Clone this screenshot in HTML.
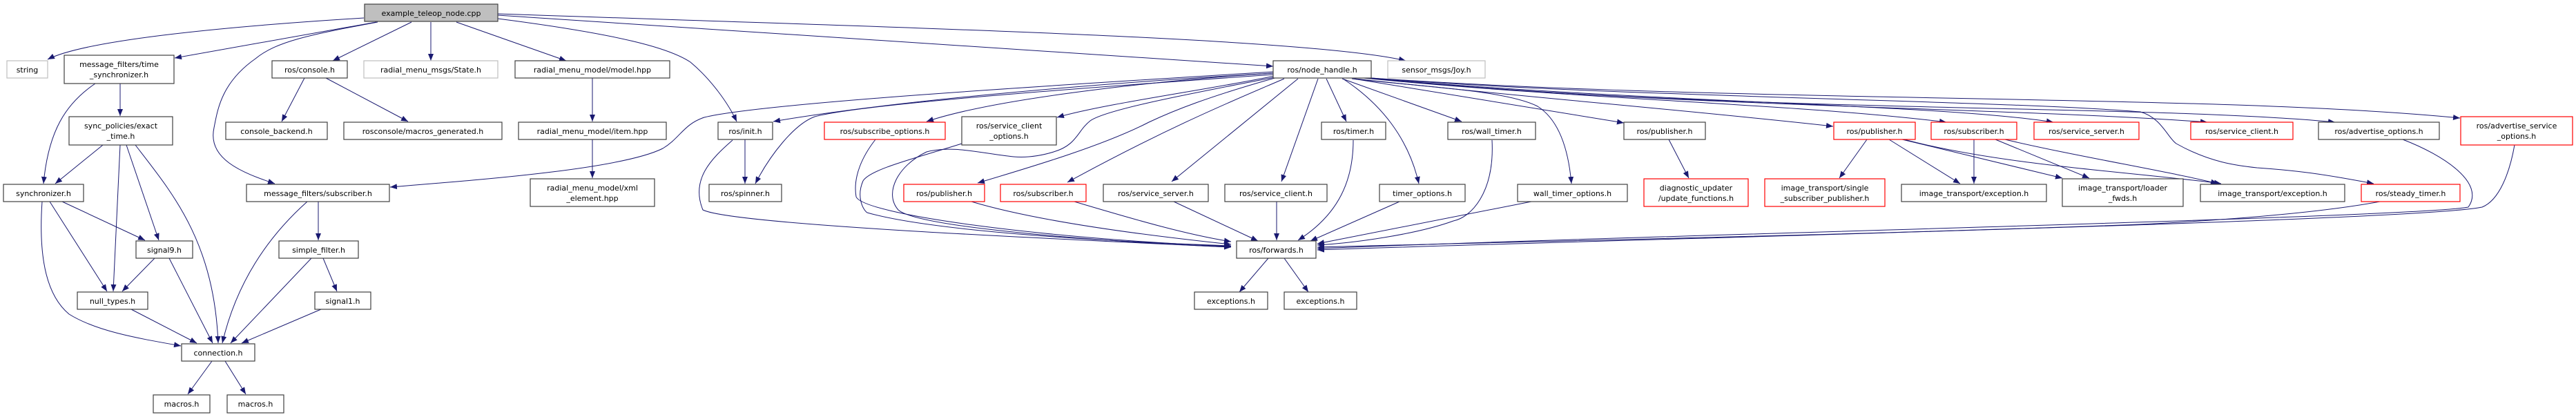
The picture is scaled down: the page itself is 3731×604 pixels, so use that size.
<!DOCTYPE html>
<html><head><meta charset="utf-8"><style>
html,body{margin:0;padding:0;background:#fff;}
svg{display:block}
text{font-family:"DejaVu Sans","Liberation Sans",sans-serif;font-size:11px;fill:#000;text-anchor:middle}
.b{fill:#fff;stroke:#404040;stroke-width:1.2}
.r{fill:#fff;stroke:#ff0000;stroke-width:1.2}
.g{fill:#fff;stroke:#bfbfbf;stroke-width:1.2}
.e{fill:none;stroke:#191970;stroke-width:1}
</style></head><body>
<svg width="3731" height="604" viewBox="0 0 3731 604" xmlns="http://www.w3.org/2000/svg">
<defs><marker id="a" markerUnits="userSpaceOnUse" markerWidth="11" markerHeight="8" refX="10" refY="4" orient="auto"><path d="M0,0 L10,4 L0,8 z" fill="#191970"/></marker></defs>
<g class="e" marker-end="url(#a)">
<!-- from example_teleop_node.cpp -->
<path d="M527,26 C300,40 120,60 69,86"/>
<path d="M545,32 L253,84"/>
<path d="M547,32 C450,50 400,60 370,85 C320,120 315,160 310,185 C300,230 350,250 398,266"/>
<path d="M596,32 L482,88"/>
<path d="M624,32 L624,88"/>
<path d="M661,32 L820,88"/>
<path d="M721,27 C900,50 970,70 1000,90 C1030,115 1055,150 1067,176"/>
<path d="M721,22 L1844,96"/>
<path d="M721,20 C1300,40 1900,55 2036,88"/>
<!-- from ros/node_handle.h -->
<path d="M1844,104 C1500,125 1100,150 1020,170 C990,180 985,200 960,215 C900,245 700,260 565,271"/>
<path d="M1844,106 C1600,120 1300,145 1120,176"/>
<path d="M1844,108 C1600,125 1250,150 1180,169 C1150,180 1115,225 1094,266"/>
<path d="M1844,106 C1700,115 1450,140 1342,176"/>
<path d="M1846,110 C1750,130 1600,150 1531,170"/>
<path d="M1850,112 C1750,140 1700,160 1664,177 C1600,210 1500,240 1416,265"/>
<path d="M1860,114 C1800,140 1700,180 1546,264"/>
<path d="M1880,114 L1697,263"/>
<path d="M1909,114 L1856,263"/>
<path d="M1846,112 C1700,140 1600,160 1579,175 C1560,190 1560,210 1526,220 C1500,228 1480,228 1468,227 C1420,222 1380,210 1342,220 C1300,240 1280,280 1301,304 C1330,330 1600,350 1783,358"/>
<path d="M1921,114 L1950,176"/>
<path d="M1945,114 C2000,150 2040,200 2055,266"/>
<path d="M1944,114 L2117,176"/>
<path d="M1958,114 C2050,125 2180,130 2227,154 C2260,175 2272,220 2276,266"/>
<path d="M1960,114 L2352,178"/>
<path d="M1962,114 C2200,140 2450,160 2655,183"/>
<path d="M1964,112 C2300,145 2600,150 2819,177"/>
<path d="M1966,112 C2400,150 2800,150 2974,177"/>
<path d="M1968,112 C2400,155 2900,155 3197,177"/>
<path d="M1970,112 C2500,165 3100,150 3382,177"/>
<path d="M1972,112 C2500,150 3200,135 3563,171"/>
<path d="M1974,112 C2300,140 2900,145 3100,162 C3130,170 3140,200 3152,208 C3200,235 3240,240 3269,243 C3340,248 3380,255 3438,266"/>
<!-- to forwards -->
<path d="M1061,203 C1030,230 1000,260 1018,304 C1060,325 1500,345 1783,358"/>
<path d="M1268,202 C1250,225 1235,255 1240,285 C1250,310 1500,345 1783,357"/>
<path d="M1393,208 C1330,228 1260,245 1250,262 C1240,285 1250,304 1256,308 C1350,335 1600,350 1783,356"/>
<path d="M1407,292 C1500,320 1650,340 1783,354"/>
<path d="M1556,292 C1650,320 1720,340 1783,350"/>
<path d="M1700,292 L1822,349"/>
<path d="M1849,292 L1849,348"/>
<path d="M1960,203 C1960,260 1940,310 1880,348"/>
<path d="M2027,292 L1898,349"/>
<path d="M2161,203 C2165,280 2130,315 2105,320 C2050,340 1960,352 1908,355"/>
<path d="M2218,292 L1908,353"/>
<path d="M3447,292 C3350,310 3200,320 3100,325 C2700,340 2200,350 1908,358"/>
<path d="M3480,202 C3540,225 3600,265 3575,300 C3500,315 2400,340 1908,360"/>
<path d="M3642,210 C3635,250 3620,290 3595,300 C3500,320 2400,345 1908,362"/>
<path d="M1837,374 L1795,423"/>
<path d="M1860,374 L1895,423"/>
<!-- ros/init -->
<path d="M1079,202 L1079,266"/>
<!-- radial menu -->
<path d="M858,113 L858,176"/>
<path d="M858,202 L858,258"/>
<!-- publisher/subscriber -->
<path d="M2417,202 L2446,258"/>
<path d="M2704,202 L2664,258"/>
<path d="M2736,202 L2839,266"/>
<path d="M2755,202 L2987,258"/>
<path d="M2758,202 C2900,240 3100,250 3217,266"/>
<path d="M2859,202 L2859,266"/>
<path d="M2890,202 L3026,258"/>
<path d="M2904,202 C3000,225 3150,250 3212,266"/>
<!-- left cluster -->
<path d="M174,121 L174,168"/>
<path d="M138,121 C95,150 70,190 63,266"/>
<path d="M149,210 L80,266"/>
<path d="M174,210 L164,422"/>
<path d="M183,210 L230,348"/>
<path d="M196,210 C250,280 310,350 316,497"/>
<path d="M90,292 L210,348"/>
<path d="M72,292 L155,422"/>
<path d="M61,292 C55,380 70,430 100,455 C140,480 200,490 262,501"/>
<path d="M224,374 L177,422"/>
<path d="M245,374 L308,497"/>
<path d="M190,448 L285,497"/>
<path d="M461,292 L461,348"/>
<path d="M445,292 C380,350 340,420 322,497"/>
<path d="M468,374 L488,422"/>
<path d="M451,374 L334,497"/>
<path d="M465,448 L350,497"/>
<path d="M441,113 L408,176"/>
<path d="M472,113 L591,176"/>
<path d="M307,523 L272,571"/>
<path d="M326,523 L356,571"/>
</g>
<!-- nodes -->
<rect x="528" y="6" width="193" height="25" fill="#bfbfbf" stroke="#404040" stroke-width="1.2"/><text x="624.5" y="23">example_teleop_node.cpp</text>
<rect class="g" x="10" y="88" width="59" height="25"/><text x="39.5" y="105">string</text>
<rect class="b" x="93" y="80" width="159" height="41"/><text x="172.5" y="97">message_filters/time</text><text x="172.5" y="112">_synchronizer.h</text>
<rect class="b" x="394" y="88" width="109" height="25"/><text x="448.5" y="105">ros/console.h</text>
<rect class="g" x="527" y="88" width="194" height="25"/><text x="624" y="105">radial_menu_msgs/State.h</text>
<rect class="b" x="746" y="88" width="224" height="25"/><text x="858" y="105">radial_menu_model/model.hpp</text>
<rect class="b" x="1844" y="88" width="142" height="25"/><text x="1915" y="105">ros/node_handle.h</text>
<rect class="g" x="2010" y="88" width="141" height="25"/><text x="2080.5" y="105">sensor_msgs/Joy.h</text>

<rect class="b" x="100" y="169" width="150" height="41"/><text x="175" y="186">sync_policies/exact</text><text x="175" y="201">_time.h</text>
<rect class="b" x="327" y="177" width="147" height="25"/><text x="400.5" y="194">console_backend.h</text>
<rect class="b" x="498" y="177" width="229" height="25"/><text x="612.5" y="194">rosconsole/macros_generated.h</text>
<rect class="b" x="751" y="177" width="214" height="25"/><text x="858" y="194">radial_menu_model/item.hpp</text>
<rect class="b" x="1040" y="177" width="79" height="25"/><text x="1079.5" y="194">ros/init.h</text>
<rect class="r" x="1194" y="177" width="175" height="25"/><text x="1281.5" y="194">ros/subscribe_options.h</text>
<rect class="b" x="1393" y="169" width="137" height="41"/><text x="1461.5" y="186">ros/service_client</text><text x="1461.5" y="201">_options.h</text>
<rect class="b" x="1914" y="177" width="93" height="25"/><text x="1960.5" y="194">ros/timer.h</text>
<rect class="b" x="2097" y="177" width="127" height="25"/><text x="2160.5" y="194">ros/wall_timer.h</text>
<rect class="b" x="2352" y="177" width="118" height="25"/><text x="2411" y="194">ros/publisher.h</text>
<rect class="r" x="2656" y="177" width="118" height="25"/><text x="2715" y="194">ros/publisher.h</text>
<rect class="r" x="2797" y="177" width="124" height="25"/><text x="2859" y="194">ros/subscriber.h</text>
<rect class="r" x="2946" y="177" width="152" height="25"/><text x="3022" y="194">ros/service_server.h</text>
<rect class="r" x="3173" y="177" width="148" height="25"/><text x="3247" y="194">ros/service_client.h</text>
<rect class="b" x="3358" y="177" width="175" height="25"/><text x="3445.5" y="194">ros/advertise_options.h</text>
<rect class="r" x="3564" y="169" width="162" height="41"/><text x="3645" y="186">ros/advertise_service</text><text x="3645" y="201">_options.h</text>

<rect class="b" x="5" y="267" width="116" height="25"/><text x="63" y="284">synchronizer.h</text>
<rect class="b" x="357" y="267" width="207" height="25"/><text x="460.5" y="284">message_filters/subscriber.h</text>
<rect class="b" x="768" y="259" width="180" height="40"/><text x="858" y="276">radial_menu_model/xml</text><text x="858" y="291">_element.hpp</text>
<rect class="b" x="1027" y="267" width="105" height="25"/><text x="1079.5" y="284">ros/spinner.h</text>
<rect class="r" x="1309" y="267" width="117" height="25"/><text x="1367.5" y="284">ros/publisher.h</text>
<rect class="r" x="1449" y="267" width="124" height="25"/><text x="1511" y="284">ros/subscriber.h</text>
<rect class="b" x="1598" y="267" width="152" height="25"/><text x="1674" y="284">ros/service_server.h</text>
<rect class="b" x="1774" y="267" width="148" height="25"/><text x="1848" y="284">ros/service_client.h</text>
<rect class="b" x="1998" y="267" width="124" height="25"/><text x="2060" y="284">timer_options.h</text>
<rect class="b" x="2198" y="267" width="159" height="25"/><text x="2277.5" y="284">wall_timer_options.h</text>
<rect class="r" x="2381" y="259" width="151" height="40"/><text x="2456.5" y="276">diagnostic_updater</text><text x="2456.5" y="291">/update_functions.h</text>
<rect class="r" x="2556" y="259" width="174" height="40"/><text x="2643" y="276">image_transport/single</text><text x="2643" y="291">_subscriber_publisher.h</text>
<rect class="b" x="2754" y="267" width="210" height="25"/><text x="2859" y="284">image_transport/exception.h</text>
<rect class="b" x="2987" y="259" width="175" height="40"/><text x="3074.5" y="276">image_transport/loader</text><text x="3074.5" y="291">_fwds.h</text>
<rect class="b" x="3187" y="267" width="209" height="25"/><text x="3291.5" y="284">image_transport/exception.h</text>
<rect class="r" x="3420" y="267" width="143" height="25"/><text x="3491.5" y="284">ros/steady_timer.h</text>

<rect class="b" x="197" y="349" width="82" height="25"/><text x="238" y="366">signal9.h</text>
<rect class="b" x="404" y="349" width="115" height="25"/><text x="461.5" y="366">simple_filter.h</text>
<rect class="b" x="1791" y="349" width="115" height="25"/><text x="1848.5" y="366">ros/forwards.h</text>

<rect class="b" x="112" y="423" width="102" height="25"/><text x="163" y="440">null_types.h</text>
<rect class="b" x="456" y="423" width="81" height="25"/><text x="496.5" y="440">signal1.h</text>
<rect class="b" x="1730" y="423" width="106" height="25"/><text x="1783" y="440">exceptions.h</text>
<rect class="b" x="1860" y="423" width="105" height="25"/><text x="1912.5" y="440">exceptions.h</text>

<rect class="b" x="263" y="498" width="106" height="25"/><text x="316" y="515">connection.h</text>
<rect class="b" x="222" y="572" width="82" height="26"/><text x="263" y="589">macros.h</text>
<rect class="b" x="329" y="572" width="82" height="26"/><text x="370" y="589">macros.h</text>
</svg>
</body></html>
